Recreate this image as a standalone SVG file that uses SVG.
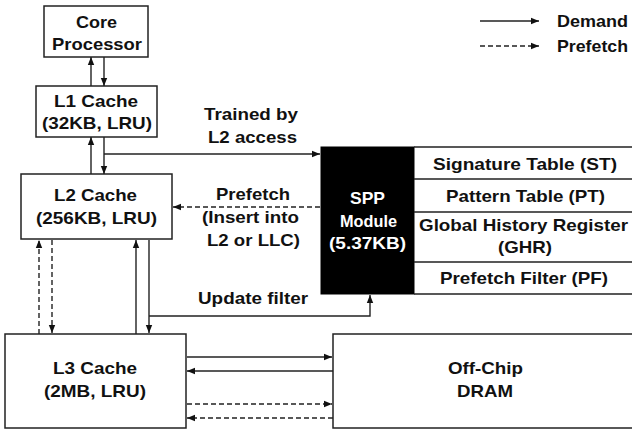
<svg xmlns="http://www.w3.org/2000/svg" width="632" height="435" viewBox="0 0 632 435">
<defs>
<marker id="ah" viewBox="0 0 8 8" refX="8" refY="4" markerWidth="8" markerHeight="8" markerUnits="userSpaceOnUse" orient="auto">
<path d="M0,0.8 L8,4 L0,7.2 Z" fill="#111"/>
</marker>
<style>
.box{fill:#fff;stroke:#222;stroke-width:1.5}
.t{font-family:"Liberation Sans",Arial,sans-serif;font-weight:bold;font-size:17px;fill:#111;text-anchor:middle}
.w{fill:#fff}
.s{text-anchor:start}
.c{fill:none;stroke:#222;stroke-width:1.4}
.d{stroke-dasharray:5,3}
.a{marker-end:url(#ah)}
</style>
</defs>
<rect width="632" height="435" fill="#fff"/>
<g id="core"><rect class="box" x="44" y="6" width="104" height="51"/><text class="t" x="96.5" y="28" textLength="41" lengthAdjust="spacingAndGlyphs">Core</text><text class="t" x="97" y="50" textLength="90" lengthAdjust="spacingAndGlyphs">Processor</text></g>
<g id="l1"><rect class="box" x="36" y="86" width="121" height="51"/><text class="t" x="96" y="107" textLength="84" lengthAdjust="spacingAndGlyphs">L1 Cache</text><text class="t" x="97" y="129" textLength="110" lengthAdjust="spacingAndGlyphs">(32KB, LRU)</text></g>
<g id="l2"><rect class="box" x="21" y="174" width="151" height="65"/><text class="t" x="95.5" y="201" textLength="83" lengthAdjust="spacingAndGlyphs">L2 Cache</text><text class="t" x="96.5" y="224" textLength="121" lengthAdjust="spacingAndGlyphs">(256KB, LRU)</text></g>
<g id="l3"><rect class="box" x="5" y="334" width="181" height="94"/><text class="t" x="95" y="374" textLength="84" lengthAdjust="spacingAndGlyphs">L3 Cache</text><text class="t" x="95" y="397" textLength="102" lengthAdjust="spacingAndGlyphs">(2MB, LRU)</text></g>
<g id="dram"><rect class="box" x="333" y="334" width="302" height="94"/><text class="t" x="485.5" y="374" textLength="75" lengthAdjust="spacingAndGlyphs">Off-Chip</text><text class="t" x="485" y="397" textLength="56" lengthAdjust="spacingAndGlyphs">DRAM</text></g>
<g id="spp"><rect x="321" y="147" width="93" height="147" fill="#000" stroke="#000"/><text class="t w" x="367.5" y="204" textLength="35" lengthAdjust="spacingAndGlyphs">SPP</text><text class="t w" x="368.5" y="227" textLength="57" lengthAdjust="spacingAndGlyphs">Module</text><text class="t w" x="367.5" y="249" textLength="77" lengthAdjust="spacingAndGlyphs">(5.37KB)</text></g>
<g id="tables">
<path class="c" d="M414,147 H635 M414,179 H635 M414,212 H635 M414,262 H635 M414,294 H635"/>
<text class="t" x="525" y="170" textLength="184" lengthAdjust="spacingAndGlyphs">Signature Table (ST)</text>
<text class="t" x="525.5" y="202" textLength="159" lengthAdjust="spacingAndGlyphs">Pattern Table (PT)</text>
<text class="t" x="523.5" y="231" textLength="209" lengthAdjust="spacingAndGlyphs">Global History Register</text>
<text class="t" x="525" y="253" textLength="54" lengthAdjust="spacingAndGlyphs">(GHR)</text>
<text class="t" x="524" y="284" textLength="168" lengthAdjust="spacingAndGlyphs">Prefetch Filter (PF)</text>
</g>
<g id="labels">
<text class="t" x="251" y="120" textLength="94" lengthAdjust="spacingAndGlyphs">Trained by</text><text class="t" x="252.5" y="143" textLength="89" lengthAdjust="spacingAndGlyphs">L2 access</text>
<text class="t" x="253" y="200" textLength="74" lengthAdjust="spacingAndGlyphs">Prefetch</text><text class="t" x="250.5" y="223" textLength="97" lengthAdjust="spacingAndGlyphs">(Insert into</text><text class="t" x="253.5" y="246" textLength="93" lengthAdjust="spacingAndGlyphs">L2 or LLC)</text>
<text class="t" x="253" y="304" textLength="110" lengthAdjust="spacingAndGlyphs">Update filter</text>
</g>
<g id="legend">
<path class="c a" d="M480,21 H539"/>
<path class="c d a" d="M480,46 H539"/>
<text class="t s" x="557" y="27" textLength="71" lengthAdjust="spacingAndGlyphs">Demand</text>
<text class="t s" x="557" y="52" textLength="71" lengthAdjust="spacingAndGlyphs">Prefetch</text>
</g>
<g id="connectors">
<path class="c a" d="M91,86 V57"/>
<path class="c a" d="M104,57 V86"/>
<path class="c a" d="M91,174 V137"/>
<path class="c a" d="M104,137 V174"/>
<path class="c a" d="M104,154 H320"/>
<path class="c d a" d="M320,207 H173"/>
<path class="c d a" d="M39,334 V240"/>
<path class="c d a" d="M52,240 V333"/>
<path class="c a" d="M136,334 V240"/>
<path class="c a" d="M149,240 V333"/>
<path class="c a" d="M149,316 H370 V295"/>
<path class="c a" d="M187,357 H332"/>
<path class="c a" d="M333,371 H187"/>
<path class="c d a" d="M187,404 H332"/>
<path class="c d a" d="M333,418 H187"/>
</g>
</svg>
